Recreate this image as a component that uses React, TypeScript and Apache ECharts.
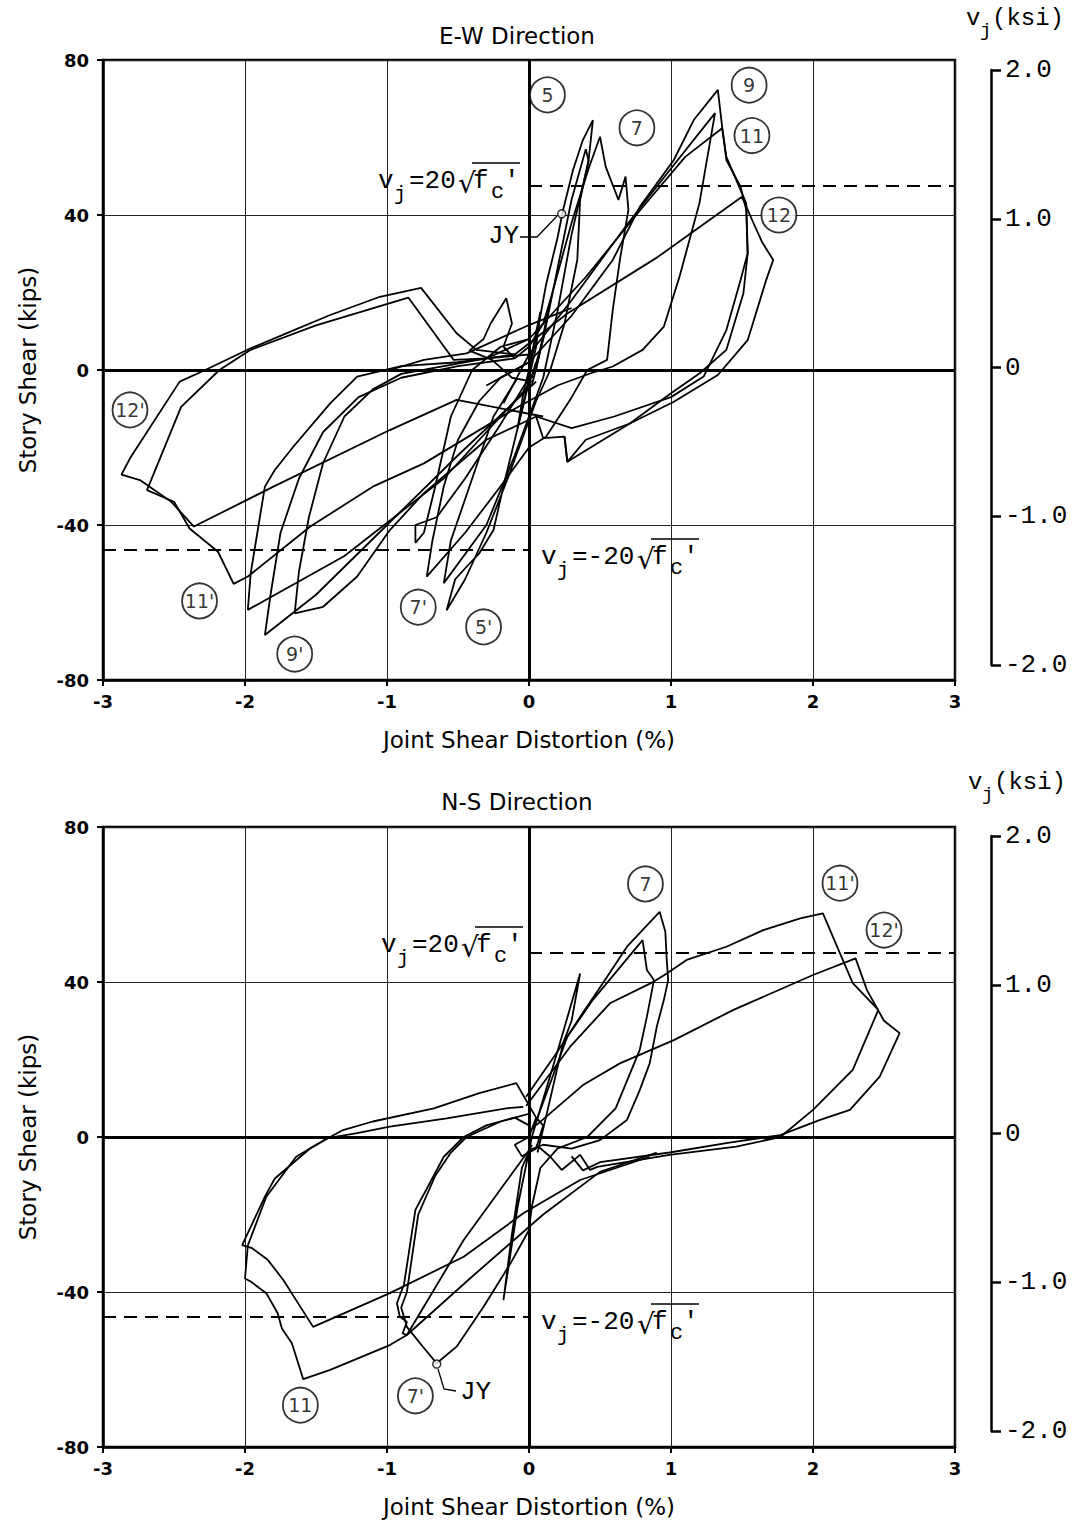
import React, { useEffect, useRef } from "react";
import * as echarts from "echarts";

const SANS = "DejaVu Sans";
const MONO = "Liberation Mono";

// axis settings
const X_MIN = -3, X_MAX = 3, X_STEP = 1;
const Y_MIN = -80, Y_MAX = 80, Y_STEP = 40;
const V_MIN = -2, V_MAX = 2, V_STEP = 1;
const VJ_LIMIT_POS = 47.5;
const VJ_LIMIT_NEG = -46.5;

// ---------- E-W direction (top) loops: [distortion %, story shear kips]
const ewSmall1 = [[0,0],[0.04,8],[0.08,15],[0.05,6],[0,-2],[-0.04,-9],[-0.08,-15],[-0.04,-6],[0,0]];
const ewSmall2 = [[0.02,-3],[-0.12,-2],[-0.26,2.6],[-0.42,5],[-0.32,8],[-0.27,12],[-0.16,18.5],[-0.12,12],[-0.18,6],[-0.1,3],[0,6],[0.1,12],[0.15,18],[0.1,8],[0.02,-2]];
const ewC5 = [[0,0],[0.06,10],[0.12,22],[0.2,34],[0.24,41.3],[0.31,51.6],[0.38,59.4],[0.45,64.5],[0.42,54.2],[0.36,43.9],[0.34,28.4],[0.25,12],[0.15,0],[0.05,-8],[-0.05,-18],[-0.15,-28],[-0.3,-42],[-0.45,-54],[-0.58,-62],[-0.52,-54],[-0.42,-50],[-0.35,-47.3],[-0.25,-41.3],[-0.18,-30],[-0.1,-18],[-0.02,-6],[0.05,2]];
const ewC5b = [[0.02,-4],[0.1,8],[0.2,26],[0.3,44],[0.4,57],[0.42,54],[0.3,35],[0.2,15],[0.1,-2],[-0.1,-22],[-0.3,-40],[-0.6,-55],[-0.55,-44],[-0.4,-28],[-0.25,-12],[-0.08,-2]];
const ewC7 = [[0.05,0],[0.15,18],[0.3,38],[0.42,52],[0.5,60.2],[0.54,52.5],[0.63,43.9],[0.68,49.9],[0.7,41.3],[0.64,28.4],[0.59,15.5],[0.55,2.6],[0.41,0],[0.29,-7.7],[0.12,-17.2],[0,-20],[-0.2,-30],[-0.45,-42],[-0.72,-53.3],[-0.68,-44],[-0.6,-30],[-0.5,-18],[-0.35,-8],[-0.2,-2],[0,2]];
const ewC7b = [[0,-2],[-0.2,-14],[-0.45,-28],[-0.65,-38],[-0.8,-40],[-0.8,-44.6],[-0.74,-42],[-0.66,-30],[-0.55,-12],[-0.4,0],[-0.2,6],[0,8]];
const ewC9 = [[-0.3,-4],[0,2],[0.3,14],[0.59,28.4],[0.78,42.1],[1.02,54.2],[1.16,64.5],[1.33,72.3],[1.36,62.8],[1.39,54.2],[1.49,47.3],[1.53,41.3],[1.54,30.1],[1.49,23.2],[1.39,10.3],[1.23,-1.7],[1,-7],[0.6,-12],[0.3,-15],[0.05,-12],[-0.3,-18],[-0.74,-31.8],[-0.98,-41.3],[-1.21,-53.3],[-1.45,-61.1],[-1.65,-62.8],[-1.62,-52],[-1.55,-38],[-1.45,-24],[-1.3,-12],[-1.1,-5],[-0.9,-1],[-0.6,1],[-0.3,3],[0,4]];
const ewC9b = [[0.05,-3],[-0.5,-22],[-1,-40],[-1.5,-58],[-1.86,-68.4],[-1.82,-58],[-1.75,-42],[-1.62,-28],[-1.45,-16],[-1.2,-7],[-0.9,-2],[-0.5,1],[-0.1,3]];
const ewC10 = [[0,-4],[-0.6,-28],[-1.3,-48],[-1.98,-61.9],[-1.96,-52.5],[-1.86,-30.1],[-1.79,-25.8],[-1.66,-19.8],[-1.4,-8.6],[-1.21,-1.7],[-0.9,1],[-0.5,2],[-0.1,4]];
const ewC11 = [[-0.18,-8.6],[0,4],[0.3,18],[0.7,38],[1,52],[1.31,66.3],[1.2,43],[1.06,24.1],[0.95,11.2],[0.8,5.2],[0.59,0.9],[0.43,-0.9],[0.2,-4],[-0.1,-10],[-0.74,-24.1],[-1.1,-30.1],[-1.54,-40.4],[-1.98,-53.3],[-2.08,-55.2],[-2.19,-46.9],[-2.39,-40.9],[-2.5,-34],[-2.69,-31],[-2.45,-9.5],[-2.18,0],[-1.96,5.2],[-1.5,11.5],[-0.85,18.7],[-0.53,2.6],[-0.3,3],[0,8]];
const ewC11b = [[0,8],[0.4,24],[0.8,42],[1.1,55],[1.36,62.4],[1.39,55],[1.53,43],[1.54,30.1],[1.51,19.8],[1.39,5.2],[1.2,-0.9],[1,-6],[0.71,-13.8],[0.4,-18],[0.27,-23.7],[0.25,-17.2],[0.1,-17.6],[0.05,-12]];
const ewC12 = [[0.1,-12],[-0.51,-7.7],[-0.98,-15.5],[-1.8,-30.1],[-2.36,-40.4],[-2.52,-34],[-2.74,-28.4],[-2.87,-27],[-2.81,-22.8],[-2.46,-3],[-2.28,0],[-1.96,5.6],[-1.68,9.9],[-1.4,14.2],[-1.05,18.9],[-0.76,21.2],[-0.51,9.5],[-0.37,5.2],[-0.1,4],[0.27,14.6],[0.9,29],[1.5,44.7],[1.58,38],[1.64,33.1],[1.72,28.4],[1.67,23.2],[1.54,7.7],[1.33,-1.3],[1.02,-8.2],[0.71,-13.8],[0.27,-23.7],[0.25,-17.2]];
const ewFlat = [[-0.98,0],[-0.74,2.6],[-0.44,4.3],[0,11.6],[0.3,16]];
const ewLoops = [ewSmall1, ewSmall2, ewC5, ewC5b, ewC7, ewC7b, ewC9, ewC9b, ewC10, ewC11, ewC11b, ewC12, ewFlat];

// cycle labels [x, y, text]
const ewLabels = [[0.13,71,"5"],[0.76,62.5,"7"],[1.55,73.5,"9"],[1.57,60.5,"11"],[1.76,40,"12"],[-2.81,-10.3,"12'"],[-2.32,-59.6,"11'"],[-1.65,-73.3,"9'"],[-0.78,-61.2,"7'"],[-0.32,-66.3,"5'"]];
const ewJY = [0.23, 40.3];

// ---------- N-S direction (bottom) loops
const nsSmall = [[0,0],[0.05,5],[0.1,3],[0.05,-3],[-0.05,-5],[-0.1,-2],[0,0]];
const nsSpikeP = [[0.02,0],[0.2,22],[0.36,42.2],[0.3,30],[0.24,24.2],[0.12,5.2],[0.06,-4]];
const nsSpikeN = [[0.02,0],[-0.08,-18],[-0.18,-42.1],[-0.12,-25],[-0.05,-8],[0.02,-2]];
const nsC7 = [[-0.02,10.4],[0.2,22],[0.36,31],[0.52,39.7],[0.69,49.1],[0.92,58.1],[0.96,53],[0.97,45.7],[0.98,40.5],[0.95,35.4],[0.9,28.5],[0.85,19],[0.78,12.1],[0.69,4.4],[0.5,-0.8],[0.3,-3],[0.1,-2],[0,-3.4],[-0.46,-26.6],[-0.86,-51.1],[-0.89,-50.7],[-0.86,-47.7],[-0.91,-46.4],[-0.93,-42.9],[-0.88,-38],[-0.8,-18.8],[-0.7,-12],[-0.6,-5.1],[-0.46,0],[-0.3,3],[-0.1,5],[0,3]];
const nsC7b = [[0.03,2],[0.27,25.9],[0.45,35.4],[0.8,50.8],[0.83,43.1],[0.88,40.5],[0.83,31],[0.78,22.5],[0.61,7.4],[0.41,0],[0.2,-3],[0.08,-8],[0.02,-18],[0,-24],[-0.13,-32.6],[-0.32,-43.8],[-0.51,-54.1],[-0.65,-58.4],[-0.75,-54],[-0.86,-49],[-0.9,-44],[-0.86,-40],[-0.78,-20],[-0.66,-10],[-0.55,-4],[-0.44,0],[-0.2,4],[0,6]];
const nsC11n = [[0.85,-5.1],[0.36,-11.1],[-0.04,-19.7],[-0.46,-30.9],[-0.98,-40.3],[-1.52,-49],[-1.64,-42.1],[-1.73,-36.9],[-1.84,-31.7],[-1.95,-28.7],[-2.02,-27.9],[-1.86,-15.4],[-1.79,-10.7],[-1.54,-2.9],[-1.4,0],[-1.31,1.8],[-1.1,4],[-0.67,7.4],[-0.35,11.3],[-0.09,13.9],[-0.02,9.5],[0.05,5]];
const nsC11nb = [[0.9,-4],[0.5,-9],[0.1,-20],[-0.4,-36],[-0.86,-51.1],[-0.98,-53.7],[-1.4,-60.1],[-1.59,-62.5],[-1.67,-53.2],[-1.74,-49.4],[-1.77,-45.5],[-1.85,-40.3],[-1.96,-37.3],[-2,-36.5],[-1.98,-28],[-1.85,-15.4],[-1.64,-5.1],[-1.42,-0.3],[-1.21,1],[-0.98,2.7],[-0.58,4.8],[-0.16,7.4],[-0.04,7.8]];
const nsC11p = [[-0.02,8],[0.29,23.3],[0.57,34.5],[0.88,40.1],[0.97,42.2],[1.11,45.7],[1.39,49.1],[1.65,53.4],[1.91,56.4],[2.07,57.7],[2.19,47.4],[2.28,39.7],[2.46,32.8],[2.28,17.3],[2,7],[1.77,0],[1.46,-2.5],[0.99,-4.6],[0.48,-7.7],[0.43,-8.5],[0.36,-4.6],[0.23,-8.5],[0.15,-5.1],[0.05,-2]];
const nsC12p = [[0.05,3],[0.38,13.4],[0.64,19],[1.02,25],[1.44,32.8],[2,41.8],[2.3,46.1],[2.38,37.9],[2.5,30],[2.61,26.8],[2.47,15.6],[2.26,7],[2.05,4.4],[1.77,0.5],[1.4,-1.5],[0.99,-4],[0.5,-6.5],[0.38,-8.6],[0.3,-5]];
const nsLoops = [nsSmall, nsSpikeP, nsSpikeN, nsC7, nsC7b, nsC11n, nsC11nb, nsC11p, nsC12p];

const nsLabels = [[0.82,65.3,"7"],[2.19,65.5,"11'"],[2.5,53.4,"12'"],[-1.61,-69.2,"11"],[-0.8,-66.8,"7'"]];
const nsJY = [-0.65, -58.6];

// ---------- layout helpers
function vjLabel(L: number, B: number, neg: boolean) {
  const fs = 26;
  const mid = (b: number, s: number) => b - 0.32 * s;
  const t = (x: number, b: number, text: string, size = fs, font = MONO) => ({
    type: "text", x, y: mid(b, size), z: 50,
    style: { text, fontSize: size, fontFamily: font, fill: "#000", verticalAlign: "middle", textAlign: "left" },
  });
  const s = neg ? 16 : 0;
  return [
    t(L, B, "v"),
    t(L + 16, B + 12, "j", 20),
    t(L + 31, B, neg ? "=-20" : "=20"),
    t(L + 80 + s, B + 3, "\u221A", 28, SANS),
    t(L + 95 + s, B, "f"),
    t(L + 113 + s, B + 11, "c", 22),
    t(L + 126 + s, B, "'"),
    { type: "line", z: 50, shape: { x1: L + 94 + s, y1: B - 26, x2: L + 142 + s, y2: B - 26 }, style: { stroke: "#000", lineWidth: 1.5 } },
  ];
}

function vjTitle(x: number, B: number) {
  const mid = (b: number, s: number) => b - 0.32 * s;
  return [
    { type: "text", x, y: mid(B, 24), style: { text: "v", fontSize: 24, fontFamily: MONO, fill: "#000", verticalAlign: "middle" } },
    { type: "text", x: x + 14, y: mid(B + 11, 19), style: { text: "j", fontSize: 19, fontFamily: MONO, fill: "#000", verticalAlign: "middle" } },
    { type: "text", x: x + 26, y: mid(B, 24), style: { text: "(ksi)", fontSize: 24, fontFamily: MONO, fill: "#000", verticalAlign: "middle" } },
  ];
}

function buildOption() {
  const mainGrid = { left: 103, width: 852, height: 620, show: true, borderColor: "#000", borderWidth: 2.5, backgroundColor: "transparent" };
  const grid = [
    { ...mainGrid, top: 60 },
    { ...mainGrid, top: 827 },
    { left: 990, width: 1, top: 70, height: 595, show: false },
    { left: 990, width: 1, top: 836, height: 595, show: false },
  ];
  const mkX = (gi: number) => ({
    gridIndex: gi, type: "value", min: X_MIN, max: X_MAX, interval: X_STEP,
    axisLine: { show: true, onZero: false, lineStyle: { color: "#000", width: 2.5 } },
    axisTick: { show: true, length: 6, lineStyle: { color: "#000", width: 2 } },
    axisLabel: { color: "#000", fontSize: 18, fontWeight: "bold", fontFamily: SANS, margin: 12 },
    splitLine: { show: true, lineStyle: { color: "#222", width: 1 } },
    name: "Joint Shear Distortion (%)", nameLocation: "middle", nameGap: 48,
    nameTextStyle: { color: "#000", fontSize: 23, fontFamily: SANS },
  });
  const mkY = (gi: number) => ({
    gridIndex: gi, type: "value", min: Y_MIN, max: Y_MAX, interval: Y_STEP,
    axisLine: { show: true, onZero: false, lineStyle: { color: "#000", width: 2.5 } },
    axisTick: { show: true, length: 6, lineStyle: { color: "#000", width: 2 } },
    axisLabel: { color: "#000", fontSize: 18, fontWeight: "bold", fontFamily: SANS, margin: 14 },
    splitLine: { show: true, lineStyle: { color: "#222", width: 1 } },
    name: "Story Shear (kips)", nameLocation: "middle", nameGap: 64, nameRotate: 90,
    nameTextStyle: { color: "#000", fontSize: 23, fontFamily: SANS },
  });
  const mkV = (gi: number) => ({
    gridIndex: gi, type: "value", position: "right", min: V_MIN, max: V_MAX, interval: V_STEP,
    axisLine: { show: true, onZero: false, lineStyle: { color: "#000", width: 2.5 } },
    axisTick: { show: true, length: 10, lineStyle: { color: "#000", width: 2.5 } },
    axisLabel: { color: "#000", fontSize: 26, fontFamily: MONO, margin: 14, formatter: (v: number) => (v === 0 ? "0" : v.toFixed(1)) },
    splitLine: { show: false },
  });
  const hiddenX = (gi: number) => ({ gridIndex: gi, type: "value", show: false, min: 0, max: 1 });

  const lineSeries = (loops: number[][][], gi: number, limits: boolean) =>
    loops.map((d, i) => ({
      type: "line", xAxisIndex: gi, yAxisIndex: gi, data: d, showSymbol: false, symbol: "none",
      silent: true, z: 3, lineStyle: { color: "#000", width: 1.8 },
      markLine: i === 0 && limits ? {
        silent: true, symbol: ["none", "none"], label: { show: false }, animation: false,
        data: [
          [{ coord: [X_MIN, 0], lineStyle: { color: "#000", width: 3, type: "solid" } }, { coord: [X_MAX, 0] }],
          [{ coord: [0, Y_MIN], lineStyle: { color: "#000", width: 3, type: "solid" } }, { coord: [0, Y_MAX] }],
          [{ coord: [0, VJ_LIMIT_POS], lineStyle: { color: "#000", width: 1.8, type: [13, 8] } }, { coord: [X_MAX, VJ_LIMIT_POS] }],
          [{ coord: [X_MIN, VJ_LIMIT_NEG], lineStyle: { color: "#000", width: 1.8, type: [13, 8] } }, { coord: [0, VJ_LIMIT_NEG] }],
        ],
      } : undefined,
    }));

  const labelSeries = (labels: any[], gi: number) => ({
    type: "scatter", xAxisIndex: gi, yAxisIndex: gi, z: 10, silent: true,
    symbol: "circle", symbolSize: 35,
    itemStyle: { color: "#fff", borderColor: "#000", borderWidth: 1.8 },
    label: { show: true, position: "inside", color: "#000", fontSize: 19, fontFamily: SANS, formatter: (p: any) => p.data[2] },
    data: labels,
  });
  const jySeries = (pt: number[], gi: number) => ({
    type: "scatter", xAxisIndex: gi, yAxisIndex: gi, z: 11, silent: true,
    symbol: "circle", symbolSize: 8, itemStyle: { color: "#fff", borderColor: "#000", borderWidth: 1.5 },
    data: [pt],
  });

  const titleText = (x: number, y: number, text: string) => ({
    type: "text", x, y, style: { text, fontSize: 23, fontFamily: SANS, fill: "#000", textAlign: "center", verticalAlign: "middle" },
  });

  const graphic = [
    titleText(517, 36, "E-W Direction"),
    titleText(517, 802, "N-S Direction"),
    ...vjTitle(966, 26),
    ...vjTitle(968, 790),
    ...vjLabel(378, 189, false),
    ...vjLabel(541, 565, true),
    ...vjLabel(381, 953, false),
    ...vjLabel(541, 1330, true),
    { type: "text", x: 488, y: 236, style: { text: "JY", fontSize: 26, fontFamily: MONO, fill: "#000", verticalAlign: "middle" } },
    { type: "polyline", shape: { points: [[520, 237], [537, 237], [557, 216]] }, style: { stroke: "#000", lineWidth: 1.3, fill: "none" } },
    { type: "text", x: 460, y: 1392, style: { text: "JY", fontSize: 26, fontFamily: MONO, fill: "#000", verticalAlign: "middle" } },
    { type: "polyline", shape: { points: [[438, 1369], [444, 1389], [456, 1391]] }, style: { stroke: "#000", lineWidth: 1.3, fill: "none" } },
  ];

  return {
    animation: false,
    backgroundColor: "#fff",
    grid,
    xAxis: [mkX(0), mkX(1), hiddenX(2), hiddenX(3)],
    yAxis: [mkY(0), mkY(1), mkV(2), mkV(3)],
    series: [
      ...lineSeries(ewLoops, 0, true),
      ...lineSeries(nsLoops, 1, true),
      labelSeries(ewLabels, 0),
      labelSeries(nsLabels, 1),
      jySeries(ewJY, 0),
      jySeries(nsJY, 1),
      { type: "line", xAxisIndex: 2, yAxisIndex: 2, data: [] },
      { type: "line", xAxisIndex: 3, yAxisIndex: 3, data: [] },
    ],
    graphic,
  };
}

export default function App() {
  const ref = useRef<HTMLDivElement>(null);
  useEffect(() => {
    document.body.style.margin = "0";
    const chart = echarts.init(ref.current!, null, { renderer: "svg" });
    chart.setOption(buildOption() as any);
    return () => chart.dispose();
  }, []);
  return <div ref={ref} style={{ width: 1085, height: 1529, background: "#fff" }} />;
}
